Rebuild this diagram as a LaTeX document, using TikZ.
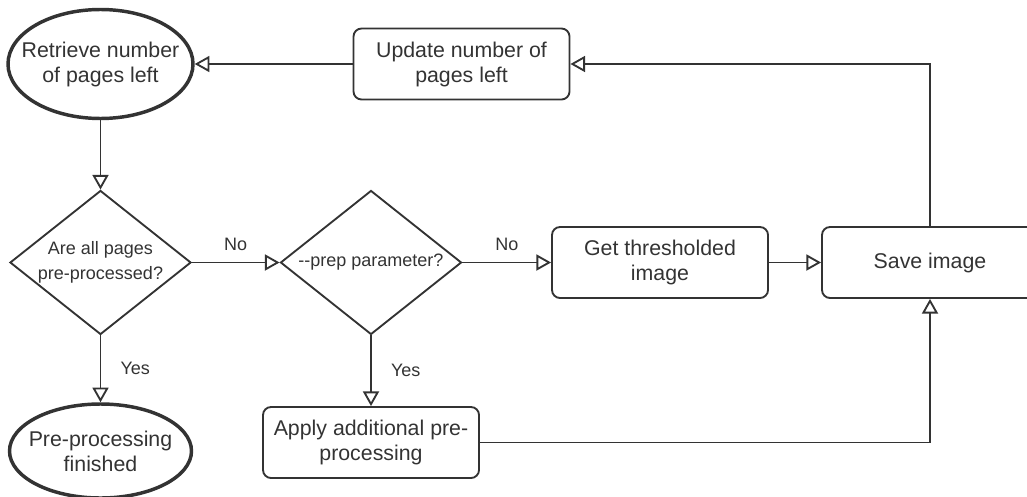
\documentclass[tikz,border=0pt]{standalone}
\usepackage{fontspec}
\setmainfont{Liberation Sans}
\usetikzlibrary{shapes.geometric,arrows.meta}
\definecolor{ink}{HTML}{333333}
\begin{document}
\begin{tikzpicture}[x=0.75pt,y=-0.75pt]
     \tikzstyle{term}=[ellipse, draw=ink, text=ink, line width=2.6pt, minimum width=138.75pt, minimum height=81.75pt, inner sep=-12pt, align=center, font=\fontsize{16}{18.75}\selectfont]
     \tikzstyle{proc}=[rectangle, rounded corners=6pt, draw=ink, text=ink, line width=1.4pt, minimum width=162pt, minimum height=53.25pt, inner sep=0pt, align=center, font=\fontsize{16}{18.75}\selectfont]
     \tikzstyle{dec}=[diamond, draw=ink, text=ink, line width=1.4pt, minimum width=135.75pt, minimum height=108pt, inner sep=-6pt, align=center, font=\fontsize{13.5}{18.75}\selectfont]
     \tikzstyle{arr}=[draw=ink, line width=1.4pt, -{Triangle[open,length=11pt,width=12pt]}]
     \tikzstyle{lbl}=[text=ink, font=\fontsize{13.5}{16}\selectfont]
     \useasboundingbox (0,0) rectangle (1027,496);
     \clip (0,0) rectangle (1027,496);
     % shapes
     \node[term] (retrieve) at (100.5,64) {Retrieve number\\of pages left};
     \node[proc] (update) at (461.5,64) {Update number of\\pages left};
     \node[dec] (allpages) at (100.5,262.5) {Are all pages\\pre-processed?};
     \node[dec] (prep) at (371,262.5) {-{}-prep parameter?};
     \node[proc] (thresh) at (660,262.5) {Get thresholded\\image};
     \node[proc] (save) at (930,262.5) {Save image};
     \node[term, minimum width=136.5pt, minimum height=70.5pt] (finished) at (100.5,451) {Pre-processing\\finished};
     \node[proc] (apply) at (371,442.5) {Apply additional pre-\\processing};
     % arrows
     \draw[arr] (update) -- (retrieve);
     \draw[arr] (retrieve) -- (allpages);
     \draw[arr] (allpages) -- node[lbl, above=5pt]{No} (prep);
     \draw[arr] (prep) -- node[lbl, above=5pt]{No} (thresh);
     \draw[arr] (thresh) -- (save);
     \draw[arr] (allpages) -- node[lbl, right=11pt]{Yes} (finished);
     \draw[arr] (prep) -- node[lbl, right=11pt]{Yes} (apply);
     \draw[arr] (save) |- (update);
     \draw[arr] (apply) -| (save);
\end{tikzpicture}
\end{document}
